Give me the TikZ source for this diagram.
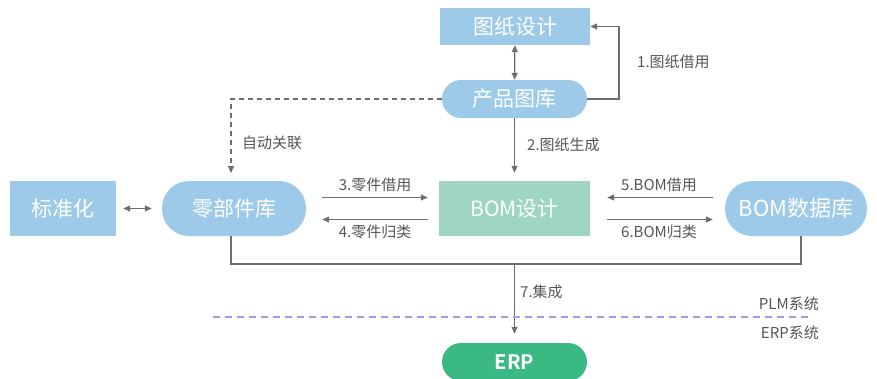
\documentclass[tikz,border=0pt]{standalone}
\usepackage{fontspec}
\setmainfont{Noto Sans CJK SC}[BoldFont=* Bold]
\usetikzlibrary{arrows.meta}
\definecolor{lblue}{HTML}{9DCAE8}
\definecolor{lgreen}{HTML}{9FD6C1}
\definecolor{erpgreen}{HTML}{3AB985}
\definecolor{lgray}{HTML}{6E6E6E}
\definecolor{tgray}{HTML}{555555}
\definecolor{lpurple}{HTML}{A99BE3}
\tikzset{
  box/.style={rectangle, fill=lblue, draw=none, text=white, font=\fontsize{21}{23}\selectfont, inner sep=0pt},
  pill/.style={box, rounded corners=#1},
  conn/.style={draw=lgray, line width=1.3pt, -{Triangle[length=7pt,width=6pt]}},
  conn2/.style={draw=lgray, line width=1.3pt, {Triangle[length=7pt,width=6pt]}-{Triangle[length=7pt,width=6pt]}},
  plain/.style={draw=lgray, line width=1.3pt},
  lbl/.style={text=tgray, font=\fontsize{15}{17}\selectfont, inner sep=0pt},
}
\begin{document}
\begin{tikzpicture}[x=1pt,y=-1pt]
\useasboundingbox (0,0) rectangle (877,378);
% nodes
\node[box, minimum width=150pt, minimum height=37pt] (tuzhi) at (515,26.5) {图纸设计};
\node[pill=19pt, minimum width=145pt, minimum height=38pt] (chanpin) at (514.5,99) {产品图库};
\node[box, minimum width=106pt, minimum height=55pt] (biaozhun) at (63,208.5) {标准化};
\node[pill=27pt, minimum width=144pt, minimum height=55pt] (ljk) at (234,208.5) {零部件库};
\node[box, fill=lgreen, minimum width=151pt, minimum height=55pt] (bom) at (514.5,208.5) {BOM设计};
\node[pill=27pt, minimum width=142pt, minimum height=55pt, font=\fontsize{22}{24}\selectfont] (bomdb) at (796,208.5) {BOM数据库};
\node[pill=19pt, fill=erpgreen, minimum width=145pt, minimum height=38pt, font=\fontsize{20}{22}\selectfont\bfseries] (erp) at (514.5,362) {ERP};
% connectors
\draw[conn2] (tuzhi) -- (chanpin);
\coordinate (loopR) at (619,99);
\draw[conn] (chanpin.east) -- (loopR) |- (tuzhi.east);
\coordinate (dashEnd) at (231,173);
\draw[conn, dash pattern=on 5pt off 4pt] (chanpin.west) -| (dashEnd);
\draw[conn, shorten >=8pt] (chanpin) -- (bom);
\draw[conn2, shorten <=7pt, shorten >=10pt] (biaozhun) -- (ljk);
\draw[conn, shorten <=16pt, shorten >=11pt] ([yshift=11pt]ljk.east) -- ([yshift=11pt]bom.west);
\draw[conn, shorten <=11pt, shorten >=16pt] ([yshift=-11pt]bom.west) -- ([yshift=-11pt]ljk.east);
\draw[conn, shorten <=12pt, shorten >=17pt] ([yshift=11pt]bomdb.west) -- ([yshift=11pt]bom.east);
\draw[conn, shorten <=17pt, shorten >=12pt] ([yshift=-11pt]bom.east) -- ([yshift=-11pt]bomdb.west);
\coordinate (busL) at (231,264);
\coordinate (busR) at (801,264);
\coordinate (busM) at (514.5,264);
\draw[plain] ([xshift=-3pt]ljk.south) -- (busL) -- (busR) -- ([xshift=5pt]bomdb.south);
\draw[conn, shorten >=9pt] (busM) -- (erp.north);
% system divider
\coordinate (divL) at (213,317);
\coordinate (divR) at (813,317);
\draw[lpurple, line width=1.2pt, dash pattern=on 7pt off 5pt] (divL) -- (divR);
% labels
\node[lbl, anchor=west] (l1) at (637,62) {1.图纸借用};
\node[lbl, anchor=west] (l0) at (242,143) {自动关联};
\node[lbl, anchor=west] (l2) at (527,145) {2.图纸生成};
\node[lbl] (l3) at (375,185) {3.零件借用};
\node[lbl] (l4) at (375,232) {4.零件归类};
\node[lbl] (l5) at (659,185) {5.BOM借用};
\node[lbl] (l6) at (659,232) {6.BOM归类};
\node[lbl, anchor=west] (l7) at (520,292) {7.集成};
\node[lbl, anchor=east] (plm) at (819,304) {PLM系统};
\node[lbl, anchor=east] (erps) at (819,333) {ERP系统};
\end{tikzpicture}
\end{document}
